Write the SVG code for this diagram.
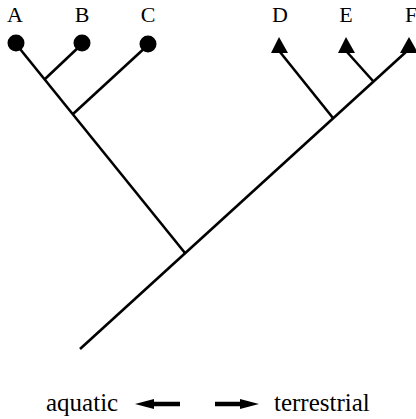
<svg xmlns="http://www.w3.org/2000/svg" width="416" height="419" viewBox="0 0 416 419">
<style>
.lbl{font-family:"Liberation Serif","Times New Roman",serif;font-size:22px;fill:#000;text-anchor:middle}
.cap{font-family:"Liberation Serif","Times New Roman",serif;font-size:25px;fill:#000}
.br{stroke:#000;stroke-width:2.6;fill:none;stroke-linecap:butt}
.tip{fill:#000}
</style>
<rect width="416" height="419" fill="#fff"/>
<g id="connectors">
<line class="br" x1="80" y1="349" x2="407" y2="51"/>
<line class="br" x1="16" y1="44" x2="185" y2="253"/>
<line class="br" x1="82" y1="44" x2="45" y2="79"/>
<line class="br" x1="148" y1="45" x2="73" y2="114"/>
<line class="br" x1="280" y1="52" x2="333" y2="118"/>
<line class="br" x1="347" y1="52" x2="373" y2="81"/>
</g>
<g id="A"><circle class="tip" cx="16" cy="43" r="8.5"/><text class="lbl" x="15" y="22">A</text></g>
<g id="B"><circle class="tip" cx="82" cy="43" r="8.5"/><text class="lbl" x="82" y="22">B</text></g>
<g id="C"><circle class="tip" cx="148" cy="44" r="8.5"/><text class="lbl" x="148" y="22">C</text></g>
<g id="D"><polygon class="tip" points="279,37 271,53 288,53"/><text class="lbl" x="280" y="22">D</text></g>
<g id="E"><polygon class="tip" points="346,37 338,53 355,53"/><text class="lbl" x="346" y="22">E</text></g>
<g id="F"><polygon class="tip" points="409,37 400,53 418,53"/><text class="lbl" x="411" y="22">F</text></g>
<g id="legend">
<text class="cap" x="46" y="411">aquatic</text>
<polygon class="tip" points="135,404 154,399 154,401.8 180,401.8 180,406.2 154,406.2 154,409"/>
<polygon class="tip" points="259,404 240,399 240,401.8 215,401.8 215,406.2 240,406.2 240,409"/>
<text class="cap" x="274" y="411">terrestrial</text>
</g>
</svg>
